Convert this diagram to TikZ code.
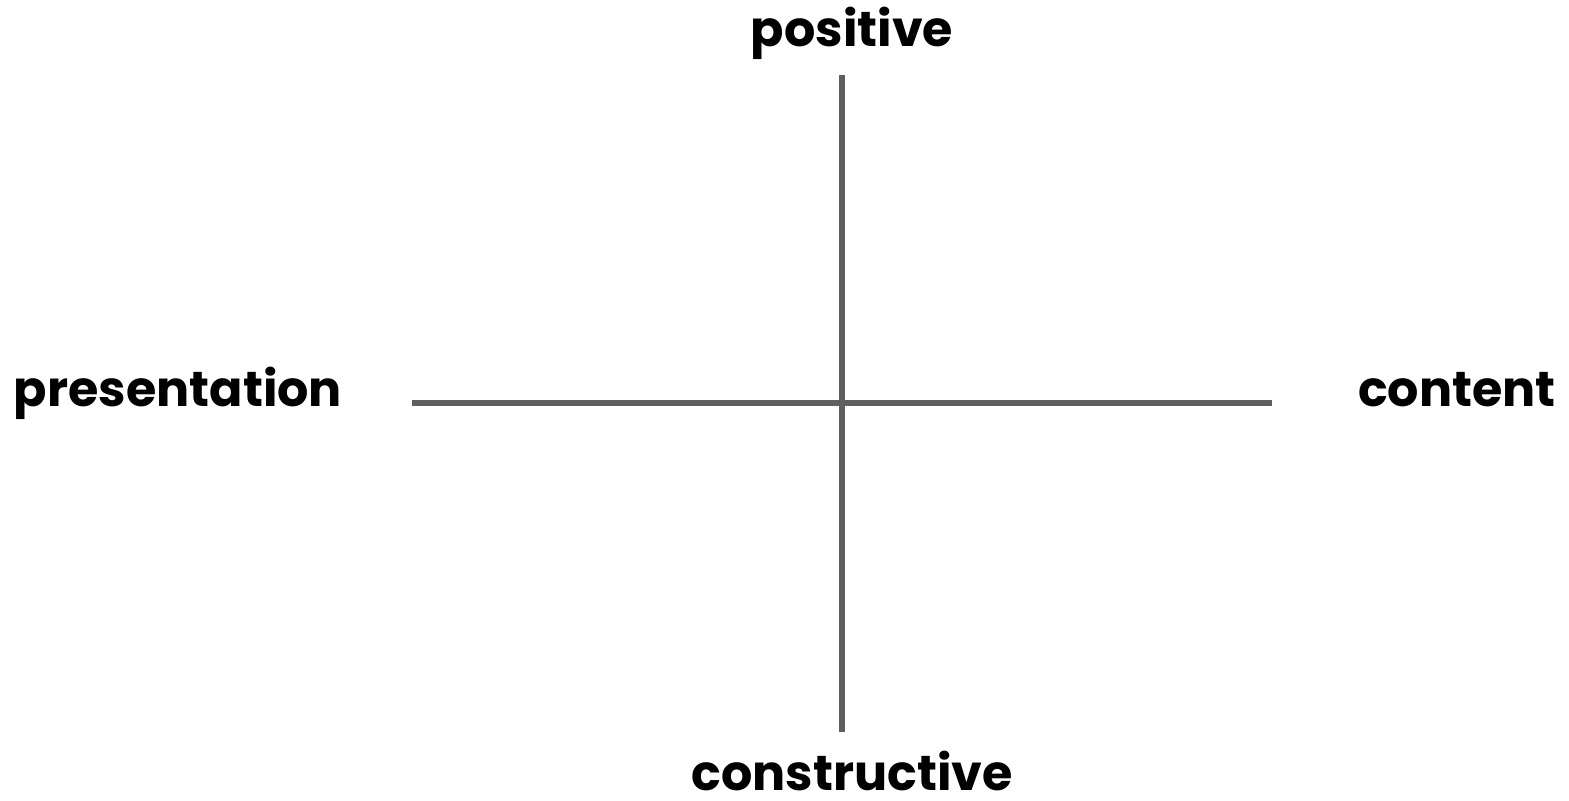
\documentclass[tikz,border=0pt]{standalone}
\usepackage{fontspec}
\setmainfont{Poppins}
\usetikzlibrary{positioning}
\definecolor{axisgray}{HTML}{5F5F5F}
\tikzset{
  axislabel/.style={font=\fontsize{28}{32}\selectfont\bfseries, inner sep=0pt, anchor=base},
  axisline/.style={draw=axisgray, line width=2.9pt}
}
\begin{document}
\begin{tikzpicture}[x=0.02cm,y=-0.02cm]
\useasboundingbox (0,0) rectangle (1569,801);
% axes
\coordinate (top) at (842,75);
\coordinate (bottom) at (842,732);
\coordinate (left) at (412,403);
\coordinate (right) at (1272,403);
\draw[axisline] (top) -- (bottom);
\draw[axisline] (left) -- (right);
% labels
\node[axislabel] (pos) at (852,47) {positive};
\node[axislabel] (con) at (852,790) {constructive};
\node[axislabel] (pres) at (178,406) {presentation};
\node[axislabel] (cont) at (1457,406) {content};
\end{tikzpicture}
\end{document}
